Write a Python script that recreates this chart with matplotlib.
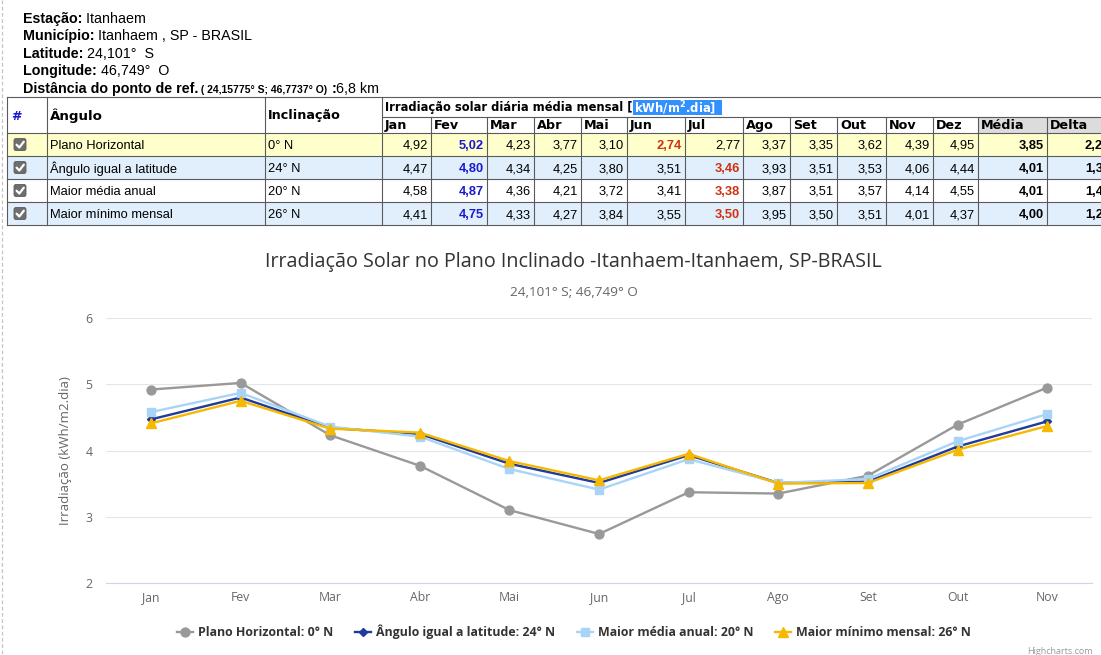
import numpy as np
import matplotlib
matplotlib.use('Agg')
import matplotlib.pyplot as plt
from matplotlib.patches import Rectangle, FancyBboxPatch
from matplotlib.lines import Line2D

# ---------------- data ----------------
station = 'Itanhaem'
municipio = 'Itanhaem , SP - BRASIL'
latitude = '24,101°  S'
longitude = '46,749°  O'
ref_point = '( 24,15775° S; 46,7737° O)'
distance = '6,8 km'

table_months = ['Jan', 'Fev', 'Mar', 'Abr', 'Mai', 'Jun', 'Jul', 'Ago', 'Set', 'Out', 'Nov', 'Dez']
row_names = ['Plano Horizontal', 'Ângulo igual a latitude', 'Maior média anual', 'Maior mínimo mensal']
row_tilts = ['0° N', '24° N', '20° N', '26° N']
table_horizontal = [4.92, 5.02, 4.23, 3.77, 3.10, 2.74, 2.77, 3.37, 3.35, 3.62, 4.39, 4.95]
table_latitude = [4.47, 4.80, 4.34, 4.25, 3.80, 3.51, 3.46, 3.93, 3.51, 3.53, 4.06, 4.44]
table_media_anual = [4.58, 4.87, 4.36, 4.21, 3.72, 3.41, 3.38, 3.87, 3.51, 3.57, 4.14, 4.55]
table_minimo = [4.41, 4.75, 4.33, 4.27, 3.84, 3.55, 3.50, 3.95, 3.50, 3.51, 4.01, 4.37]
table_media = [3.85, 4.01, 4.01, 4.00]
table_delta = [2.28, 1.34, 1.49, 1.25]

chart_categories = ['Jan', 'Fev', 'Mar', 'Abr', 'Mai', 'Jun', 'Jul', 'Ago', 'Set', 'Out', 'Nov']
series_horizontal = [4.92, 5.02, 4.23, 3.77, 3.10, 2.74, 3.37, 3.35, 3.62, 4.39, 4.95]
series_latitude = [4.47, 4.80, 4.34, 4.25, 3.80, 3.51, 3.93, 3.51, 3.53, 4.06, 4.44]
series_media_anual = [4.58, 4.87, 4.36, 4.21, 3.72, 3.41, 3.87, 3.51, 3.57, 4.14, 4.55]
series_minimo = [4.41, 4.75, 4.33, 4.27, 3.84, 3.55, 3.95, 3.50, 3.51, 4.01, 4.37]
series_labels = ['Plano Horizontal: 0° N', 'Ângulo igual a latitude: 24° N',
                 'Maior média anual: 20° N', 'Maior mínimo mensal: 26° N']
y_ticks = [2, 3, 4, 5, 6]

chart_title = 'Irradiação Solar no Plano Inclinado -Itanhaem-Itanhaem, SP-BRASIL'
chart_subtitle = '24,101° S; 46,749° O'
y_title = 'Irradiação (kWh/m2.dia)'

# ---------------- figure ----------------
W, H = 1101, 655
fig = plt.figure(figsize=(W / 100, H / 100), dpi=100)
fig.patch.set_facecolor('white')
ov = fig.add_axes([0, 0, 1, 1])
ov.set_xlim(0, W)
ov.set_ylim(H, 0)
ov.axis('off')
renderer = fig.canvas.get_renderer()

SANS = 'Liberation Sans'

# left dashed page border
ov.plot([1.5, 1.5], [0, H], ls=(0, (3, 2)), color='#c4c4c4', lw=0.9)


def draw_segments(x, y, segments):
    for txt, weight, size in segments:
        t = ov.text(x, y, txt, fontsize=size, fontweight=weight, family=SANS,
                    va='baseline', ha='left', color='black')
        bb = t.get_window_extent(renderer=renderer)
        x += bb.width


HS = 10.3
draw_segments(23, 22.7, [('Estação:', 'bold', HS), (' ' + station, 'normal', HS)])
draw_segments(23, 40.3, [('Município:', 'bold', HS), (' ' + municipio, 'normal', HS)])
draw_segments(23, 57.8, [('Latitude:', 'bold', HS), (' ' + latitude, 'normal', HS)])
draw_segments(23, 75.3, [('Longitude:', 'bold', HS), (' ' + longitude, 'normal', HS)])
draw_segments(23, 92.7, [('Distância do ponto de ref.', 'bold', HS), (' ' + ref_point, 'bold', 7.5),
                         (' :', 'bold', HS), (distance, 'normal', HS)])

# ---------------- table ----------------
col_x = [7, 47, 265, 382, 431, 487, 534, 581, 627, 685, 743, 790, 837, 886, 933, 978, 1047, 1125]
row_y = [133, 156, 179, 202, 225]
top_y, sub_y = 97, 117
row_bg = ['#ffffcc', '#e1effd', '#ffffff', '#e1effd']
border = '#5a5a5a'
HFONT = 'DejaVu Sans'

# header month cells background (Média / Delta grey)
ov.add_patch(Rectangle((col_x[15], sub_y), col_x[16] - col_x[15], row_y[0] - sub_y, fc='#dcdcdc', ec='none'))
ov.add_patch(Rectangle((col_x[16], sub_y), col_x[17] - col_x[16], row_y[0] - sub_y, fc='#dcdcdc', ec='none'))
for r in range(4):
    ov.add_patch(Rectangle((col_x[0], row_y[r]), col_x[-1] - col_x[0], row_y[r + 1] - row_y[r],
                           fc=row_bg[r], ec='none'))

lw_b = 0.8
# horizontal lines
ov.plot([col_x[0], W], [top_y, top_y], color=border, lw=lw_b)
ov.plot([col_x[3], W], [sub_y, sub_y], color=border, lw=lw_b)
for yy in row_y:
    ov.plot([col_x[0], W], [yy, yy], color=border, lw=lw_b)
# vertical lines
for i, xx in enumerate(col_x[:-1]):
    if i <= 3:
        ov.plot([xx, xx], [top_y, row_y[-1]], color=border, lw=lw_b)
    else:
        ov.plot([xx, xx], [sub_y, row_y[-1]], color=border, lw=lw_b)

hy = (top_y + row_y[0]) / 2 + 1
ov.text(11, hy, '#', color='#1a1acc', fontsize=9, fontweight='bold', family=HFONT, va='center', ha='left')
ov.text(50, hy, 'Ângulo', color='black', fontsize=9.6, fontweight='bold', family=HFONT, va='center', ha='left')
ov.text(268, hy, 'Inclinação', color='black', fontsize=9.2, fontweight='bold', family=HFONT, va='center', ha='left')
t = ov.text(385, 108, 'Irradiação solar diária média mensal [', color='black', fontsize=8.3,
            fontweight='bold', family=HFONT, va='center', ha='left')
bb = t.get_window_extent(renderer=renderer)
hx = 385 + bb.width
ov.add_patch(Rectangle((hx, 100), 89, 15, fc='#3390ff', ec='none'))
ov.text(hx + 1, 108, r'kWh/m$^{\mathbf{2}}$.dia]', color='white', fontsize=8.4, fontweight='bold',
        family=HFONT, va='center', ha='left')

month_headers = table_months + ['Média', 'Delta']
for j, m in enumerate(month_headers):
    ov.text(col_x[3 + j] + 3, 125.5, m, color='black', fontsize=9.2, fontweight='bold', family=HFONT,
            va='center', ha='left')

tables = [table_horizontal, table_latitude, table_media_anual, table_minimo]


def fmt(v):
    return f'{v:.2f}'.replace('.', ',')


for r in range(4):
    cy = (row_y[r] + row_y[r + 1]) / 2
    # checkbox
    ov.add_patch(FancyBboxPatch((14, cy - 6), 12, 12, boxstyle='round,pad=0,rounding_size=2',
                                fc='#6e6e6e', ec='#5a5a5a', lw=0.6))
    ov.plot([16.6, 19.3, 23.8], [cy + 0.2, cy + 3.0, cy - 2.8], color='white', lw=1.6,
            solid_capstyle='round', solid_joinstyle='round')
    ov.text(50, cy, row_names[r], fontsize=9.3, family=SANS, va='center_baseline', ha='left', color='black')
    ov.text(268, cy, row_tilts[r], fontsize=9.3, family=SANS, va='center_baseline', ha='left', color='black')
    vals = tables[r]
    imax = int(np.argmax(vals))
    imin = int(np.argmin(vals))
    for j, v in enumerate(vals):
        color, weight = 'black', 'normal'
        if j == imax:
            color, weight = '#1a1acc', 'bold'
        elif j == imin:
            color, weight = '#d03010', 'bold'
        ov.text(col_x[4 + j] - 3, cy, fmt(v), fontsize=9.3, family=SANS, va='center_baseline', ha='right',
                color=color, fontweight=weight)
    ov.text(col_x[16] - 3, cy, fmt(table_media[r]), fontsize=9.3, family=SANS, va='center_baseline',
            ha='right', color='black', fontweight='bold')
    ov.text(col_x[17] - 15, cy, fmt(table_delta[r]), fontsize=9.3, family=SANS, va='center_baseline',
            ha='right', color='black', fontweight='bold', clip_on=False)

# ---------------- chart ----------------
CF = 'Open Sans'
left_px, right_px, top_px, bot_px = 106.2, 1092, 318, 583
ax = fig.add_axes([left_px / W, 1 - bot_px / H, (right_px - left_px) / W, (bot_px - top_px) / H])
ax.set_facecolor('none')
x = np.arange(len(chart_categories))
ax.set_xlim(-0.5, len(chart_categories) - 0.5)
ax.set_ylim(2, 6)
ax.set_yticks(y_ticks)
ax.set_xticks(x)
ax.set_xticklabels(chart_categories)
for s in ['top', 'right', 'left']:
    ax.spines[s].set_visible(False)
ax.spines['bottom'].set_color('#ccd6eb')
ax.spines['bottom'].set_linewidth(0.8)
ax.grid(axis='y', color='#e6e6e6', lw=0.8)
ax.set_axisbelow(True)
ax.tick_params(axis='both', length=0, colors='#666666', labelsize=8.8)
ax.tick_params(axis='y', pad=10)
ax.tick_params(axis='x', pad=6)
for lab in ax.get_xticklabels() + ax.get_yticklabels():
    lab.set_family(CF)

styles = [
    dict(color='#999999', marker='o', ms=6.4),
    dict(color='#1f3b9c', marker='D', ms=3.8),
    dict(color='#a9d4f7', marker='s', ms=5.8),
    dict(color='#f6b800', marker='^', ms=6.8),
]
all_series = [series_horizontal, series_latitude, series_media_anual, series_minimo]
handles = []
for k, (ser, st) in enumerate(zip(all_series, styles)):
    ln, = ax.plot(x, ser, color=st['color'], lw=1.7, marker=st['marker'], ms=st['ms'],
                  mec=st['color'], mfc=st['color'], clip_on=False, zorder=3 + k, label=series_labels[k])
    handles.append(ln)

ov.text(573.5, 262, chart_title, ha='center', va='center', fontsize=14.2, color='#333333', family=CF)
ov.text(573.5, 292, chart_subtitle, ha='center', va='center', fontsize=9.7, color='#666666', family=CF)
ov.text(66, 451, y_title, ha='center', va='center', rotation=90, fontsize=9.5, color='#666666', family=CF)

leg = ax.legend(handles=handles, loc='center', bbox_to_anchor=(574 / W, 1 - 632 / H),
                bbox_transform=fig.transFigure, ncol=4, frameon=False, handlelength=1.3,
                handletextpad=0.45, columnspacing=1.7, numpoints=1,
                prop=dict(family=CF, weight='bold', size=8.9))
for txt in leg.get_texts():
    txt.set_color('#333333')

ov.text(1093, 652, 'Highcharts.com', ha='right', va='center', fontsize=6.5, color='#999999', family=CF)

fig.savefig('out.png', dpi=100, facecolor='white')
